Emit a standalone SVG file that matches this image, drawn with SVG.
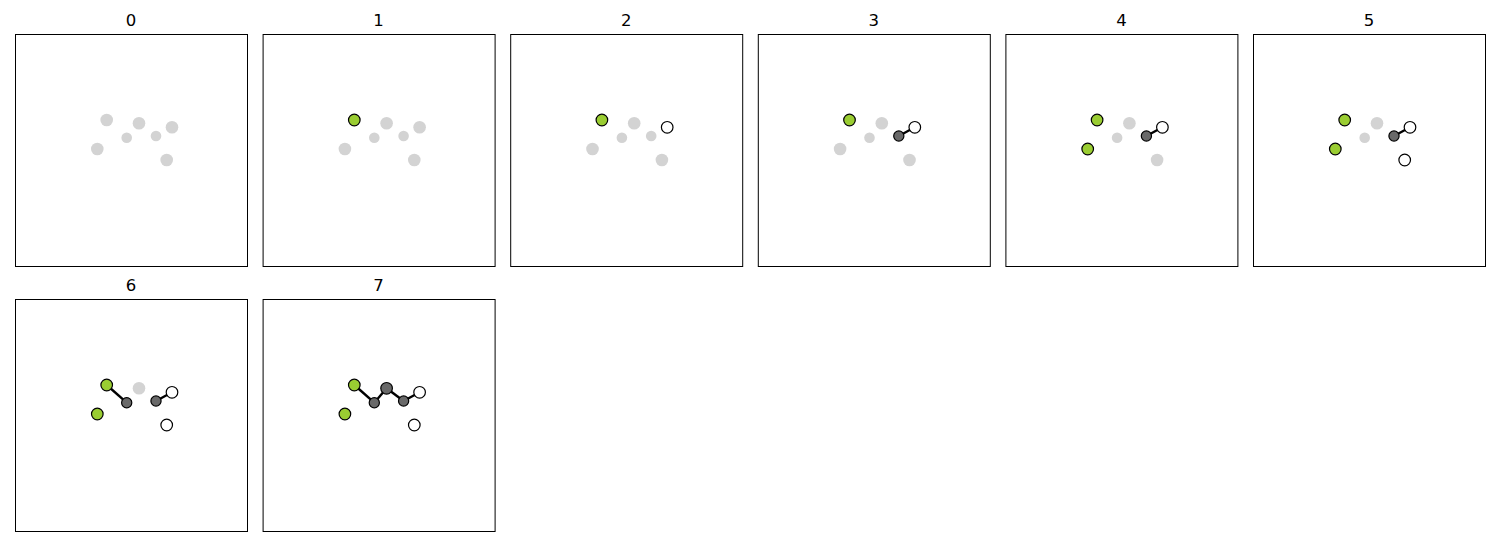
<svg xmlns="http://www.w3.org/2000/svg" width="1500" height="560" viewBox="0 0 1500 560">
<style>
.frame{fill:#fff;stroke:#000;stroke-width:1}
.t{font-family:"DejaVu Sans",sans-serif;font-size:16.5px;text-anchor:middle;fill:#000}
.u{fill:#d3d3d3;stroke:none}
.g{fill:#9acd32;stroke:#000;stroke-width:1.2}
.d{fill:#696969;stroke:#000;stroke-width:1.2}
.w{fill:#fff;stroke:#000;stroke-width:1.2}
.e{stroke:#000;stroke-width:2.4;fill:none}
</style>
<rect width="1500" height="560" fill="#fff"/>
<!-- Panel 0 -->
<g id="panel0" transform="translate(15,34)">
<rect class="frame" x="0.5" y="0.5" width="232" height="232"/>
<text class="t" x="116" y="-8">0</text>
<g id="p0-nodes">
<circle class="u" cx="91.7" cy="86" r="6.3"/><circle class="u" cx="124" cy="89.3" r="6.3"/><circle class="u" cx="111.7" cy="103.7" r="5.3"/><circle class="u" cx="141" cy="102" r="5.3"/><circle class="u" cx="157" cy="93.3" r="6.3"/><circle class="u" cx="82.3" cy="115" r="6.3"/><circle class="u" cx="151.7" cy="126" r="6.3"/>
</g>
</g>
<!-- Panel 1 -->
<g id="panel1" transform="translate(262.6,34)">
<rect class="frame" x="0.5" y="0.5" width="232" height="232"/>
<text class="t" x="116" y="-8">1</text>
<g id="p1-nodes">
<circle class="u" cx="124" cy="89.3" r="6.3"/><circle class="u" cx="111.7" cy="103.7" r="5.3"/><circle class="u" cx="141" cy="102" r="5.3"/><circle class="u" cx="157" cy="93.3" r="6.3"/><circle class="u" cx="82.3" cy="115" r="6.3"/><circle class="u" cx="151.7" cy="126" r="6.3"/>
<circle class="g" cx="91.7" cy="86" r="5.8"/>
</g>
</g>
<!-- Panel 2 -->
<g id="panel2" transform="translate(510.2,34)">
<rect class="frame" x="0.5" y="0.5" width="232" height="232"/>
<text class="t" x="116" y="-8">2</text>
<g id="p2-nodes">
<circle class="u" cx="124" cy="89.3" r="6.3"/><circle class="u" cx="111.7" cy="103.7" r="5.3"/><circle class="u" cx="141" cy="102" r="5.3"/><circle class="u" cx="82.3" cy="115" r="6.3"/><circle class="u" cx="151.7" cy="126" r="6.3"/>
<circle class="g" cx="91.7" cy="86" r="5.8"/><circle class="w" cx="157" cy="93.3" r="5.8"/>
</g>
</g>
<!-- Panel 3 -->
<g id="panel3" transform="translate(757.8,34)">
<rect class="frame" x="0.5" y="0.5" width="232" height="232"/>
<text class="t" x="116" y="-8">3</text>
<g id="p3-edges"><line class="e" x1="141" y1="102" x2="157" y2="93.3"/></g>
<g id="p3-nodes">
<circle class="u" cx="124" cy="89.3" r="6.3"/><circle class="u" cx="111.7" cy="103.7" r="5.3"/><circle class="u" cx="82.3" cy="115" r="6.3"/><circle class="u" cx="151.7" cy="126" r="6.3"/>
<circle class="g" cx="91.7" cy="86" r="5.8"/><circle class="w" cx="157" cy="93.3" r="5.8"/><circle class="d" cx="141" cy="102" r="5.1"/>
</g>
</g>
<!-- Panel 4 -->
<g id="panel4" transform="translate(1005.4,34)">
<rect class="frame" x="0.5" y="0.5" width="232" height="232"/>
<text class="t" x="116" y="-8">4</text>
<g id="p4-edges"><line class="e" x1="141" y1="102" x2="157" y2="93.3"/></g>
<g id="p4-nodes">
<circle class="u" cx="124" cy="89.3" r="6.3"/><circle class="u" cx="111.7" cy="103.7" r="5.3"/><circle class="u" cx="151.7" cy="126" r="6.3"/>
<circle class="g" cx="91.7" cy="86" r="5.8"/><circle class="w" cx="157" cy="93.3" r="5.8"/><circle class="d" cx="141" cy="102" r="5.1"/><circle class="g" cx="82.3" cy="115" r="5.8"/>
</g>
</g>
<!-- Panel 5 -->
<g id="panel5" transform="translate(1253,34)">
<rect class="frame" x="0.5" y="0.5" width="232" height="232"/>
<text class="t" x="116" y="-8">5</text>
<g id="p5-edges"><line class="e" x1="141" y1="102" x2="157" y2="93.3"/></g>
<g id="p5-nodes">
<circle class="u" cx="124" cy="89.3" r="6.3"/><circle class="u" cx="111.7" cy="103.7" r="5.3"/>
<circle class="g" cx="91.7" cy="86" r="5.8"/><circle class="w" cx="157" cy="93.3" r="5.8"/><circle class="d" cx="141" cy="102" r="5.1"/><circle class="g" cx="82.3" cy="115" r="5.8"/><circle class="w" cx="151.7" cy="126" r="5.8"/>
</g>
</g>
<!-- Panel 6 -->
<g id="panel6" transform="translate(15,299)">
<rect class="frame" x="0.5" y="0.5" width="232" height="232"/>
<text class="t" x="116" y="-8">6</text>
<g id="p6-edges"><line class="e" x1="141" y1="102" x2="157" y2="93.3"/><line class="e" x1="91.7" y1="86" x2="111.7" y2="103.7"/></g>
<g id="p6-nodes">
<circle class="u" cx="124" cy="89.3" r="6.3"/>
<circle class="g" cx="91.7" cy="86" r="5.8"/><circle class="w" cx="157" cy="93.3" r="5.8"/><circle class="d" cx="141" cy="102" r="5.1"/><circle class="g" cx="82.3" cy="115" r="5.8"/><circle class="w" cx="151.7" cy="126" r="5.8"/><circle class="d" cx="111.7" cy="103.7" r="5.1"/>
</g>
</g>
<!-- Panel 7 -->
<g id="panel7" transform="translate(262.6,299)">
<rect class="frame" x="0.5" y="0.5" width="232" height="232"/>
<text class="t" x="116" y="-8">7</text>
<g id="p7-edges"><line class="e" x1="141" y1="102" x2="157" y2="93.3"/><line class="e" x1="91.7" y1="86" x2="111.7" y2="103.7"/><line class="e" x1="111.7" y1="103.7" x2="124" y2="89.3"/><line class="e" x1="124" y1="89.3" x2="141" y2="102"/></g>
<g id="p7-nodes">
<circle class="g" cx="91.7" cy="86" r="5.8"/><circle class="w" cx="157" cy="93.3" r="5.8"/><circle class="d" cx="141" cy="102" r="5.1"/><circle class="g" cx="82.3" cy="115" r="5.8"/><circle class="w" cx="151.7" cy="126" r="5.8"/><circle class="d" cx="111.7" cy="103.7" r="5.1"/><circle class="d" cx="124" cy="89.3" r="5.8"/>
</g>
</g>
</svg>
